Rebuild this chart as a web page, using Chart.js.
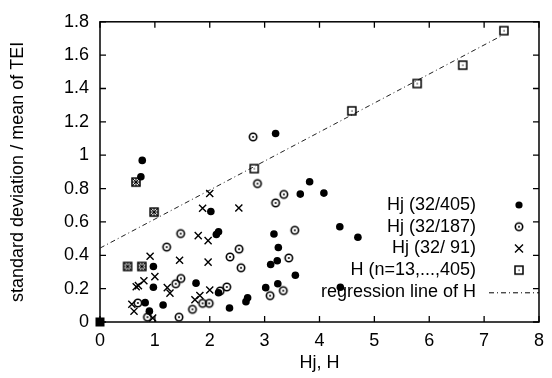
<!DOCTYPE html>
<html lang="en">
<head>
  <meta charset="UTF-8" />
  <title>standard deviation / mean of TEI</title>
  <script src="https://cdn.jsdelivr.net/npm/chart.js"></script>
  <style>
    body { margin: 0; background: white; }
    #wrap { width: 552px; height: 378px; }
  </style>
</head>
<body>
  <div id="wrap"><canvas id="chart" width="552" height="378"></canvas></div>

  <script>
    // values
    const hj405 = [
      [0.77, 0.969], [0.745, 0.871], [2.02, 0.663], [2.12, 0.525], [2.16, 0.541],
      [0.973, 0.333], [0.973, 0.208], [1.75, 0.233], [2.16, 0.175], [3.02, 0.206],
      [0.823, 0.116], [0.90, 0.065], [1.15, 0.102], [2.36, 0.084], [2.69, 0.145],
      [2.66, 0.122], [3.2, 1.13], [3.82, 0.841], [3.65, 0.767], [4.08, 0.773],
      [3.17, 0.528], [4.37, 0.571], [4.70, 0.508], [3.25, 0.447], [3.23, 0.367],
      [3.11, 0.345], [3.56, 0.28], [3.24, 0.229], [4.38, 0.208]
    ];
    const hj187 = [
      [2.79, 1.11], [2.87, 0.83], [3.35, 0.765], [3.20, 0.714], [3.55, 0.55],
      [1.47, 0.53], [1.215, 0.449], [2.37, 0.39], [2.535, 0.437], [2.57, 0.325],
      [3.44, 0.384], [1.474, 0.261], [1.38, 0.229], [2.19, 0.186], [2.31, 0.21],
      [3.10, 0.158], [3.34, 0.188], [0.69, 0.114], [0.865, 0.029], [1.44, 0.029],
      [1.685, 0.076], [1.87, 0.112], [1.99, 0.112]
    ];
    const hj91 = [
      [2.0, 0.77], [1.87, 0.682], [2.53, 0.684], [1.79, 0.518], [1.97, 0.488],
      [0.913, 0.394], [1.45, 0.37], [1.97, 0.359], [1.0, 0.272], [0.80, 0.247],
      [0.70, 0.218], [0.66, 0.211], [1.226, 0.206], [1.275, 0.173], [2.0, 0.192],
      [0.58, 0.106], [0.62, 0.065], [0.96, 0.024], [1.73, 0.133], [1.82, 0.159]
    ];
    const hAll = [
      [0, 0], [0.503, 0.333], [0.763, 0.333], [0.655, 0.839], [0.986, 0.659],
      [2.81, 0.92], [4.59, 1.266], [5.78, 1.43], [6.61, 1.54], [7.36, 1.747]
    ];
    const regression = [[0, 0.443], [7.31, 1.715]];

    const legendLabels = ['Hj (32/405)', 'Hj (32/187)', 'Hj (32/ 91)', 'H (n=13,...,405)', 'regression line of H'];
    const xTicks = [0, 1, 2, 3, 4, 5, 6, 7, 8];
    const yTicks = [0, 0.2, 0.4, 0.6, 0.8, 1, 1.2, 1.4, 1.6, 1.8];

    const FONT = '"Liberation Sans", Arial, sans-serif';
    const DASH = [5, 3, 1, 3];

    function makeIcon(draw) {
      const c = document.createElement('canvas');
      c.width = 12; c.height = 12;
      const g = c.getContext('2d');
      g.strokeStyle = '#000';
      g.fillStyle = '#000';
      draw(g);
      return c;
    }
    const circleDot = makeIcon(g => {
      g.lineWidth = 1.6;
      g.beginPath(); g.arc(6, 6, 3.7, 0, Math.PI * 2); g.stroke();
      g.beginPath(); g.arc(6, 6, 1, 0, Math.PI * 2); g.fill();
    });
    const squareDot = makeIcon(g => {
      g.lineWidth = 1.5;
      g.strokeRect(2, 2, 8, 8);
      g.fillRect(5.5, 5.5, 1.2, 1.2);
    });
    const squareHatch = makeIcon(g => {
      g.lineWidth = 1.5;
      g.strokeRect(2, 2, 8, 8);
      g.beginPath();
      g.moveTo(2, 2); g.lineTo(10, 10); g.moveTo(10, 2); g.lineTo(2, 10);
      g.moveTo(6, 2); g.lineTo(6, 10); g.moveTo(2, 6); g.lineTo(10, 6);
      g.lineWidth = 1; g.stroke();
    });
    const squareFill = makeIcon(g => { g.fillRect(1.5, 1.5, 9, 9); });

    const hStyles = hAll.map(([x, y]) => {
      if (x === 0 && y === 0) return squareFill;
      if (x < 1.5) return squareHatch;
      return squareDot;
    });

    const toPts = arr => arr.map(([x, y]) => ({ x, y }));

    // frame with inward ticks on all four sides, plus the legend
    const framePlugin = {
      id: 'frame',
      beforeDatasetsDraw(chart) {
        const ctx = chart.ctx;
        const a = chart.chartArea;
        const xs = chart.scales.x, ys = chart.scales.y;
        ctx.save();
        ctx.strokeStyle = '#000';
        ctx.lineWidth = 1.5;
        ctx.strokeRect(a.left, a.top, a.right - a.left, a.bottom - a.top);
        ctx.lineWidth = 1.3;
        ctx.beginPath();
        xTicks.forEach(v => {
          const px = xs.getPixelForValue(v);
          ctx.moveTo(px, a.bottom); ctx.lineTo(px, a.bottom - 6);
          ctx.moveTo(px, a.top); ctx.lineTo(px, a.top + 6);
        });
        yTicks.forEach(v => {
          const py = ys.getPixelForValue(v);
          ctx.moveTo(a.left, py); ctx.lineTo(a.left + 6, py);
          ctx.moveTo(a.right, py); ctx.lineTo(a.right - 6, py);
        });
        ctx.stroke();

        // legend, text right aligned with the symbol on the right
        ctx.font = '18px ' + FONT;
        ctx.fillStyle = '#000';
        ctx.textAlign = 'right';
        ctx.textBaseline = 'middle';
        const textRight = 476, symX = 519, top = 205, step = 21.7;
        legendLabels.forEach((t, i) => {
          const y = top + i * step;
          ctx.fillText(t, textRight, y);
          if (i === 0) {
            ctx.beginPath(); ctx.arc(symX, y, 3.6, 0, Math.PI * 2); ctx.fill();
          } else if (i === 1) {
            ctx.drawImage(circleDot, symX - 6, y - 6);
          } else if (i === 2) {
            ctx.beginPath();
            ctx.lineWidth = 1.4;
            ctx.moveTo(symX - 4, y - 4); ctx.lineTo(symX + 4, y + 4);
            ctx.moveTo(symX + 4, y - 4); ctx.lineTo(symX - 4, y + 4);
            ctx.stroke();
          } else if (i === 3) {
            ctx.drawImage(squareDot, symX - 6, y - 6);
          } else {
            ctx.beginPath();
            ctx.lineWidth = 1;
            ctx.setLineDash(DASH);
            ctx.moveTo(489, y + 1); ctx.lineTo(a.right, y + 1);
            ctx.stroke();
            ctx.setLineDash([]);
          }
        });
        ctx.restore();
      }
    };

    new Chart(document.getElementById('chart'), {
      type: 'scatter',
      data: {
        datasets: [
          {
            label: 'regression line of H',
            data: toPts(regression),
            showLine: true,
            borderColor: '#222',
            borderWidth: 1,
            borderDash: DASH,
            pointRadius: 0,
            order: 5
          },
          {
            label: 'Hj (32/405)',
            data: toPts(hj405),
            pointStyle: 'circle',
            pointRadius: 3.8,
            backgroundColor: '#000',
            borderColor: '#000',
            borderWidth: 0
          },
          {
            label: 'Hj (32/187)',
            data: toPts(hj187),
            pointStyle: circleDot
          },
          {
            label: 'Hj (32/ 91)',
            data: toPts(hj91),
            pointStyle: 'crossRot',
            pointRadius: 5,
            borderColor: '#000',
            borderWidth: 1.4
          },
          {
            label: 'H (n=13,...,405)',
            data: toPts(hAll),
            pointStyle: hStyles,
            clip: false
          }
        ]
      },
      options: {
        responsive: false,
        animation: false,
        layout: { padding: { top: 16, right: 9, left: 0, bottom: 0 } },
        plugins: {
          legend: { display: false },
          tooltip: { enabled: false }
        },
        scales: {
          x: {
            type: 'linear',
            min: 0, max: 8,
            afterBuildTicks: s => { s.ticks = xTicks.map(v => ({ value: v })); },
            afterFit: s => { s.height = 56; },
            grid: { display: false, drawTicks: false },
            border: { display: false },
            ticks: {
              color: '#000',
              font: { family: FONT, size: 18 },
              padding: 8
            },
            title: {
              display: true,
              text: 'Hj, H',
              color: '#000',
              font: { family: FONT, size: 18 },
              padding: { top: 0, bottom: 4 }
            }
          },
          y: {
            type: 'linear',
            min: 0, max: 1.8,
            afterBuildTicks: s => { s.ticks = yTicks.map(v => ({ value: v })); },
            afterFit: s => { s.width = 100; },
            grid: { display: false, drawTicks: false },
            border: { display: false },
            ticks: {
              color: '#000',
              font: { family: FONT, size: 18 },
              padding: 11,
              callback: v => String(+v.toFixed(1))
            },
            title: {
              display: true,
              text: 'standard deviation / mean of TEI',
              color: '#000',
              font: { family: FONT, size: 18 },
              padding: { top: 7, bottom: 0 }
            }
          }
        }
      },
      plugins: [framePlugin]
    });
  </script>
</body>
</html>
